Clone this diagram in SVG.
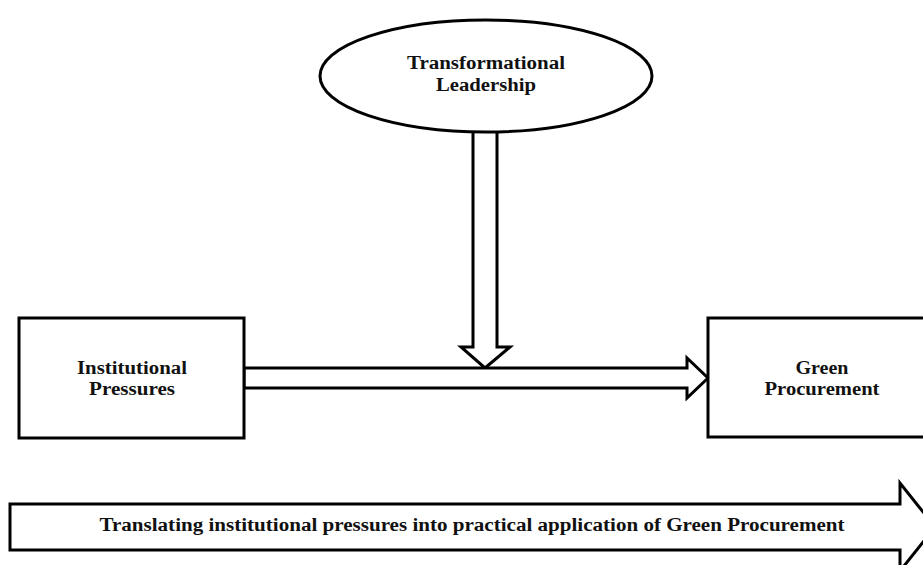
<svg xmlns="http://www.w3.org/2000/svg" width="923" height="565" viewBox="0 0 923 565">
<style>
.sh{fill:#fff;stroke:#000;stroke-width:3;stroke-linejoin:miter}
.t{font-family:"Liberation Serif","Times New Roman",serif;font-weight:bold;font-size:18px;fill:#111;text-anchor:middle}
</style>
<rect width="923" height="565" fill="#fff"/>
<g id="connectors">
<polygon class="sh" points="473,120 497,120 497,347 510,347 485,368 461,347 473,347"/>
<polygon class="sh" points="244,368 687,368 687,358 708,378 687,398 687,388 244,388"/>
</g>
<g id="transformational-leadership">
<ellipse class="sh" cx="486" cy="76" rx="166" ry="56"/>
<text class="t" x="486" y="69" textLength="158" lengthAdjust="spacingAndGlyphs">Transformational</text>
<text class="t" x="486" y="91" textLength="100" lengthAdjust="spacingAndGlyphs">Leadership</text>
</g>
<g id="institutional-pressures">
<rect class="sh" x="19" y="318" width="225" height="120"/>
<text class="t" x="132" y="374" textLength="110" lengthAdjust="spacingAndGlyphs">Institutional</text>
<text class="t" x="132" y="395" textLength="86" lengthAdjust="spacingAndGlyphs">Pressures</text>
</g>
<g id="green-procurement">
<rect class="sh" x="708" y="318" width="230" height="119"/>
<text class="t" x="822" y="374" textLength="53" lengthAdjust="spacingAndGlyphs">Green</text>
<text class="t" x="822" y="395" textLength="115" lengthAdjust="spacingAndGlyphs">Procurement</text>
</g>
<g id="translation-arrow">
<polygon class="sh" points="10,504 900,504 900,483 935,527 900,571 900,550 10,550"/>
<text class="t" x="472" y="531" textLength="745" lengthAdjust="spacingAndGlyphs">Translating institutional pressures into practical application of Green Procurement</text>
</g>
</svg>
